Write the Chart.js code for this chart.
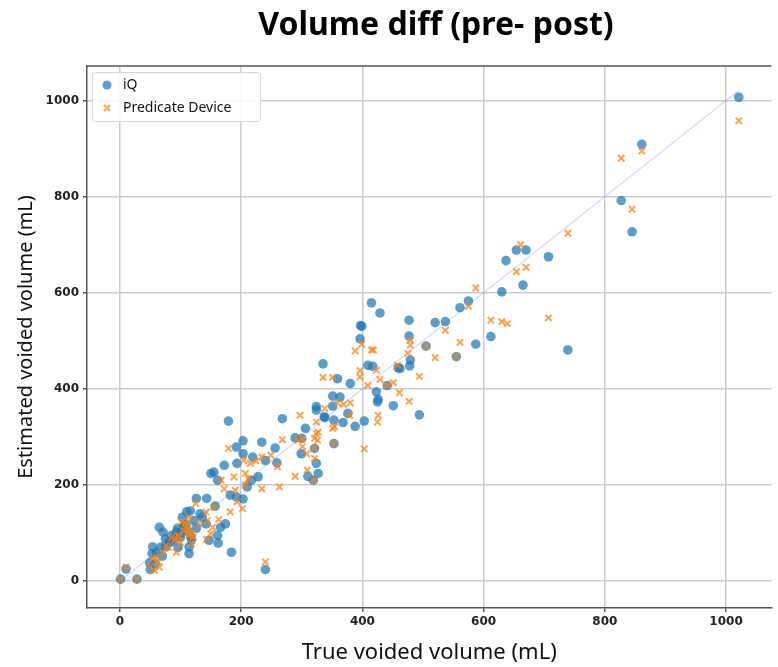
<!DOCTYPE html>
<html>
<head>
<meta charset="utf-8">
<script src="https://cdn.jsdelivr.net/npm/chart.js@4"></script>
<style>
  html, body { margin: 0; padding: 0; background: #fff; overflow: hidden; }
</style>
</head>
<body>
<canvas id="c" width="778" height="667"></canvas>
<script>
// data (mL)
const chartTitle = 'Volume diff (pre- post)';
const seriesNames = ['iQ', 'Predicate Device'];
const xTicks = [0, 200, 400, 600, 800, 1000];
const yTicks = [0, 200, 400, 600, 800, 1000];
const identityLine = [1, 1021];

const iqTrue = [1021, 861, 827, 845, 707, 739, 654, 670, 637, 665, 630, 575, 561, 612, 587, 555, 520, 537, 505, 494,
  477, 477, 479, 478, 459, 462, 441, 451, 429, 415, 397, 399, 396, 409, 417, 423, 426, 425, 403, 388,
  380, 359, 335, 351, 363, 351, 376, 368, 353, 353, 337, 324, 324, 306, 300, 321, 324, 327, 310, 319,
  299, 1, 28, 10, 240, 184, 179, 268, 192, 203, 234, 256, 289, 338, 259, 240, 219, 203, 193, 172,
  155, 150, 161, 210, 217, 228, 182, 192, 203, 174, 166, 143, 126, 157, 136, 142, 161, 147, 162, 110,
  116, 103, 105, 117, 93, 84, 114, 114, 65, 71, 68, 76, 54, 53, 49, 50, 58, 60, 75, 85,
  95, 100, 108, 112, 122, 118, 90, 80, 100, 126, 132, 70, 96];
const iqEst = [1007, 909, 792, 727, 675, 481, 689, 689, 667, 616, 602, 583, 569, 509, 493, 467, 538, 540, 489, 346,
  543, 510, 460, 448, 444, 442, 407, 365, 558, 579, 532, 530, 504, 449, 447, 394, 378, 373, 333, 322,
  411, 421, 452, 385, 383, 364, 349, 330, 335, 286, 342, 363, 356, 318, 297, 276, 245, 224, 218, 210,
  265, 4, 4, 25, 24, 60, 333, 338, 279, 292, 289, 277, 298, 340, 246, 251, 258, 265, 245, 241,
  227, 224, 210, 196, 210, 217, 179, 175, 171, 119, 112, 172, 172, 156, 133, 119, 95, 85, 79, 144,
  146, 133, 112, 92, 102, 81, 71, 57, 112, 102, 71, 71, 71, 57, 38, 24, 36, 60, 88, 95,
  110, 100, 118, 104, 126, 86, 88, 80, 92, 110, 140, 52, 70];

const predTrue = [1021, 861, 827, 845, 739, 707, 661, 670, 654, 587, 575, 612, 630, 639, 561, 555, 520, 537, 505, 494,
  479, 479, 475, 458, 451, 441, 461, 477, 399, 388, 415, 418, 396, 396, 423, 429, 409, 426, 425, 403,
  351, 335, 380, 359, 379, 351, 353, 324, 327, 321, 297, 300, 321, 308, 319, 309, 294, 1, 28, 10,
  240, 179, 268, 338, 369, 354, 324, 326, 301, 321, 289, 263, 260, 249, 234, 224, 215, 204, 172, 167,
  188, 207, 212, 234, 190, 207, 193, 202, 182, 163, 144, 125, 155, 142, 153, 150, 143, 114, 101, 108,
  112, 114, 121, 98, 90, 76, 93, 118, 54, 63, 65, 57, 50, 80, 95, 105, 85, 70, 110, 120,
  60, 100, 130, 115];
const predEst = [958, 895, 880, 774, 724, 548, 700, 653, 644, 610, 572, 543, 540, 536, 497, 467, 465, 522, 489, 426,
  501, 491, 474, 449, 413, 407, 392, 374, 493, 479, 481, 481, 438, 425, 439, 420, 407, 345, 331, 275,
  424, 424, 371, 371, 345, 318, 286, 331, 310, 297, 345, 297, 255, 265, 210, 231, 293, 4, 4, 29,
  40, 276, 294, 359, 368, 321, 307, 293, 280, 276, 218, 196, 238, 262, 258, 250, 245, 251, 192, 210,
  217, 224, 213, 192, 189, 200, 165, 151, 144, 128, 126, 161, 154, 144, 112, 99, 87, 133, 123, 120,
  109, 100, 92, 92, 85, 74, 60, 78, 47, 40, 29, 22, 30, 70, 95, 105, 90, 60, 115, 100,
  50, 80, 120, 95];

const toPoints = (xs, ys) => xs.map((x, i) => ({ x: x, y: ys[i] }));

const blue = 'rgba(31, 119, 180, 0.72)';
const orange = 'rgba(255, 127, 14, 0.72)';

// title, top frame line and the boxed legend in the upper left
const extras = {
  id: 'extras',
  afterDraw(chart) {
    const { ctx, chartArea: a } = chart;
    ctx.save();
    ctx.strokeStyle = '#555';
    ctx.lineWidth = 1.5;
    ctx.beginPath();
    ctx.moveTo(a.left, a.top);
    ctx.lineTo(a.right, a.top);
    ctx.stroke();

    ctx.fillStyle = '#000';
    ctx.font = 'bold 32px "Noto Sans"';
    ctx.textAlign = 'center';
    ctx.textBaseline = 'middle';
    ctx.fillText(chartTitle, 436, 26);

    // legend
    ctx.fillStyle = 'rgba(255,255,255,0.85)';
    ctx.strokeStyle = '#d6d6d6';
    ctx.lineWidth = 1;
    ctx.beginPath();
    ctx.roundRect(92.5, 72.5, 168, 49, 3);
    ctx.fill();
    ctx.stroke();

    ctx.fillStyle = blue;
    ctx.beginPath();
    ctx.arc(107, 85, 4.5, 0, Math.PI * 2);
    ctx.fill();

    ctx.strokeStyle = orange;
    ctx.lineWidth = 2;
    ctx.beginPath();
    ctx.moveTo(104, 105); ctx.lineTo(110, 111);
    ctx.moveTo(110, 105); ctx.lineTo(104, 111);
    ctx.stroke();

    ctx.fillStyle = '#111';
    ctx.font = '14px "Noto Sans"';
    ctx.textAlign = 'left';
    ctx.fillText(seriesNames[0], 123, 85);
    ctx.fillText(seriesNames[1], 123, 108);
    ctx.restore();
  }
};

new Chart(document.getElementById('c'), {
  type: 'scatter',
  data: {
    datasets: [
      {
        label: seriesNames[1],
        data: toPoints(predTrue, predEst),
        pointStyle: 'crossRot',
        pointRadius: 4.5,
        borderWidth: 2,
        borderColor: orange,
        backgroundColor: orange
      },
      {
        label: seriesNames[0],
        data: toPoints(iqTrue, iqEst),
        pointStyle: 'circle',
        pointRadius: 4.8,
        borderWidth: 0,
        backgroundColor: blue
      },
      {
        label: 'identity',
        data: toPoints(identityLine, identityLine),
        showLine: true,
        pointRadius: 0,
        borderWidth: 1.5,
        borderColor: 'rgba(110, 110, 255, 0.25)'
      }
    ]
  },
  options: {
    responsive: false,
    animation: false,
    devicePixelRatio: 1,
    layout: { padding: { top: 66, right: 0, bottom: 0, left: 0 } },
    plugins: {
      legend: { display: false },
      tooltip: { enabled: false }
    },
    scales: {
      x: {
        type: 'linear',
        min: -54.4,
        max: 1075,
        afterBuildTicks: s => { s.ticks = xTicks.map(v => ({ value: v })); },
        afterFit: s => { s.height = 59; },
        grid: { color: '#cccccc', lineWidth: 1.5, tickLength: 4, tickColor: '#555' },
        border: { color: '#555', width: 1.5 },
        ticks: {
          color: '#222', padding: 3,
          font: { family: 'DejaVu Sans', weight: 'bold', size: 12 },
          callback: v => String(v)
        },
        title: {
          display: true,
          text: 'True voided volume (mL)',
          color: '#111',
          font: { family: 'Noto Sans', size: 22 },
          padding: { top: 0, bottom: 1 }
        }
      },
      y: {
        type: 'linear',
        min: -56,
        max: 1072,
        afterBuildTicks: s => { s.ticks = yTicks.map(v => ({ value: v })); },
        afterFit: s => { s.width = 87; },
        grid: { color: '#cccccc', lineWidth: 1.5, tickLength: 4, tickColor: '#555' },
        border: { color: '#555', width: 1.5 },
        ticks: {
          color: '#222', padding: 4,
          font: { family: 'DejaVu Sans', weight: 'bold', size: 12 },
          callback: v => String(v)
        },
        title: {
          display: true,
          text: 'Estimated voided volume (mL)',
          color: '#111',
          font: { family: 'Noto Sans', size: 20 },
          padding: { top: 14, bottom: 0 }
        }
      }
    }
  },
  plugins: [extras]
});
</script>
</body>
</html>
